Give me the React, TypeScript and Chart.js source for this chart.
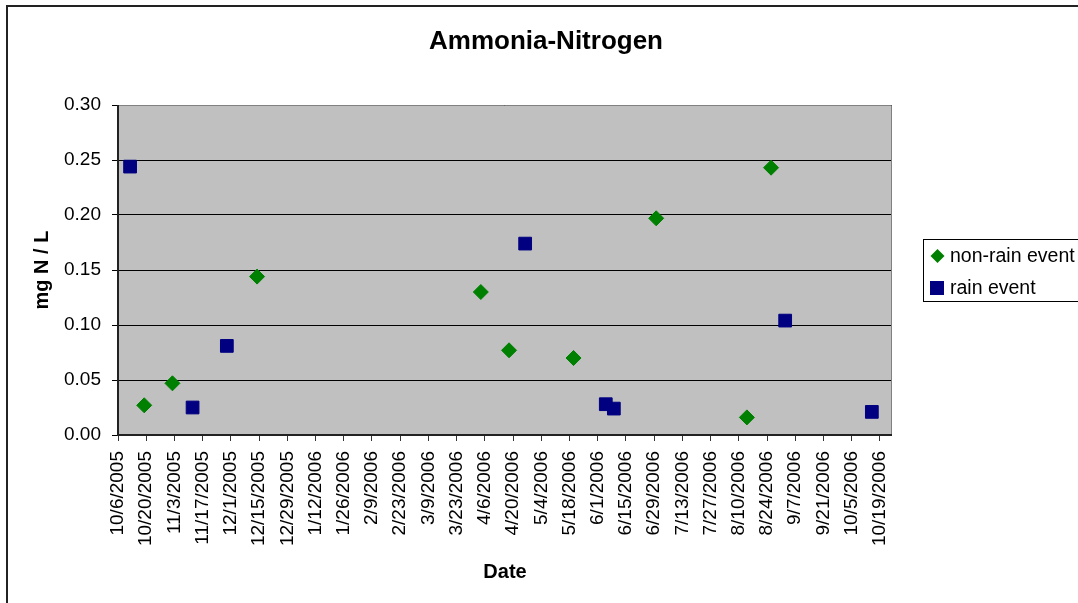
import React, { useEffect, useRef } from 'react';
import { Chart, registerables } from 'chart.js';

Chart.register(...registerables);

const chartTitle = 'Ammonia-Nitrogen';
const xAxisTitle = 'Date';
const yAxisTitle = 'mg N / L';
const nonRainLabel = 'non-rain event';
const rainLabel = 'rain event';

const nonRainDates = ['10/19/2005', '11/2/2005', '12/14/2005', '4/4/2006', '4/18/2006', '5/20/2006', '6/30/2006', '8/14/2006', '8/26/2006'];
const nonRainValues = [0.027, 0.047, 0.144, 0.130, 0.077, 0.070, 0.197, 0.016, 0.243];

const rainDates = ['10/12/2005', '11/12/2005', '11/29/2005', '4/26/2006', '6/5/2006', '6/9/2006', '9/2/2006', '10/15/2006'];
const rainValues = [0.244, 0.025, 0.081, 0.174, 0.028, 0.024, 0.104, 0.021];

const xTickDates = [
  '10/6/2005', '10/20/2005', '11/3/2005', '11/17/2005', '12/1/2005', '12/15/2005', '12/29/2005',
  '1/12/2006', '1/26/2006', '2/9/2006', '2/23/2006', '3/9/2006', '3/23/2006', '4/6/2006',
  '4/20/2006', '5/4/2006', '5/18/2006', '6/1/2006', '6/15/2006', '6/29/2006', '7/13/2006',
  '7/27/2006', '8/10/2006', '8/24/2006', '9/7/2006', '9/21/2006', '10/5/2006', '10/19/2006',
];
const xMinDate = '10/6/2005';
const xMaxDate = '10/25/2006';
const yTicks = [0, 0.05, 0.1, 0.15, 0.2, 0.25, 0.3];

const FONT = 'Arial, "Liberation Sans", sans-serif';

function toDay(s: string): number {
  const [m, d, y] = s.split('/').map(Number);
  return Date.UTC(y, m - 1, d) / 86400000;
}
function fmtDay(v: number): string {
  const dt = new Date(Math.round(v) * 86400000);
  return `${dt.getUTCMonth() + 1}/${dt.getUTCDate()}/${dt.getUTCFullYear()}`;
}

const decorPlugin = {
  id: 'decor',
  beforeDraw(chart: any) {
    const { ctx, chartArea, width, height } = chart;
    ctx.save();
    ctx.fillStyle = '#ffffff';
    ctx.fillRect(0, 0, width, height);
    ctx.strokeStyle = '#222222';
    ctx.lineWidth = 2;
    ctx.strokeRect(7, 6, width + 20, height + 20);
    ctx.fillStyle = '#C0C0C0';
    ctx.fillRect(chartArea.left, chartArea.top, chartArea.right - chartArea.left, chartArea.bottom - chartArea.top);
    ctx.restore();
  },
  beforeDatasetsDraw(chart: any) {
    const { ctx, chartArea } = chart;
    const { left, right, top, bottom } = chartArea;
    ctx.save();
    ctx.strokeStyle = '#808080';
    ctx.lineWidth = 1;
    ctx.beginPath();
    ctx.moveTo(left, top + 0.5);
    ctx.lineTo(right - 0.5, top + 0.5);
    ctx.lineTo(right - 0.5, bottom);
    ctx.stroke();
    ctx.strokeStyle = '#222222';
    ctx.lineWidth = 2;
    ctx.beginPath();
    ctx.moveTo(left, top);
    ctx.lineTo(left, bottom);
    ctx.lineTo(right, bottom);
    ctx.stroke();
    ctx.restore();
  },
  afterDraw(chart: any) {
    const { ctx } = chart;
    ctx.save();
    // title
    ctx.fillStyle = '#000';
    ctx.font = `bold 26px ${FONT}`;
    ctx.textAlign = 'center';
    ctx.textBaseline = 'middle';
    ctx.fillText(chartTitle, 546, 42);
    // legend
    ctx.strokeStyle = '#000';
    ctx.lineWidth = 1;
    ctx.strokeRect(923.5, 239.5, 200, 62);
    ctx.fillStyle = '#008000';
    ctx.beginPath();
    ctx.moveTo(937.5 - 7, 256);
    ctx.lineTo(937.5, 256 - 7);
    ctx.lineTo(937.5 + 7, 256);
    ctx.lineTo(937.5, 256 + 7);
    ctx.closePath();
    ctx.fill();
    ctx.fillStyle = '#000080';
    ctx.fillRect(930, 281, 14, 14);
    ctx.fillStyle = '#000';
    ctx.font = `19.5px ${FONT}`;
    ctx.textAlign = 'left';
    ctx.textBaseline = 'middle';
    ctx.fillText(nonRainLabel, 950, 257);
    ctx.fillText(rainLabel, 950, 289);
    ctx.restore();
  },
};

export default function App() {
  const ref = useRef<HTMLCanvasElement>(null);
  useEffect(() => {
    if (!ref.current) return;
    const chart = new Chart(ref.current, {
      type: 'scatter',
      data: {
        datasets: [
          {
            label: nonRainLabel,
            data: nonRainDates.map((d, i) => ({ x: toDay(d), y: nonRainValues[i] })),
            pointStyle: 'rectRot',
            pointRadius: 7.5,
            pointHoverRadius: 7.5,
            backgroundColor: '#008000',
            borderColor: '#008000',
            borderWidth: 1,
          },
          {
            label: rainLabel,
            data: rainDates.map((d, i) => ({ x: toDay(d), y: rainValues[i] })),
            pointStyle: 'rect',
            pointRadius: 9,
            pointHoverRadius: 9,
            backgroundColor: '#000080',
            borderColor: '#000080',
            borderWidth: 1,
          },
        ],
      },
      plugins: [decorPlugin],
      options: {
        animation: false,
        responsive: false,
        devicePixelRatio: 1,
        layout: { padding: { left: 0, top: 105, right: 186, bottom: 0 } },
        plugins: {
          legend: { display: false },
          title: { display: false },
          tooltip: { enabled: false },
        },
        scales: {
          x: {
            type: 'linear',
            min: toDay(xMinDate),
            max: toDay(xMaxDate),
            afterBuildTicks: (axis: any) => {
              axis.ticks = xTickDates.map((s) => ({ value: toDay(s) }));
            },
            afterFit: (scale: any) => {
              scale.height = 168;
            },
            ticks: {
              autoSkip: false,
              minRotation: 90,
              maxRotation: 90,
              padding: 10,
              color: '#000',
              font: { family: FONT, size: 19 },
              callback: (v: any) => fmtDay(Number(v)),
            },
            grid: {
              drawOnChartArea: false,
              drawTicks: true,
              tickLength: 6,
              tickColor: '#333333',
            },
            border: { display: false },
            title: {
              display: true,
              text: xAxisTitle,
              color: '#000',
              font: { family: FONT, size: 20, weight: 'bold' },
              padding: { top: 0, bottom: 19 },
            },
          },
          y: {
            type: 'linear',
            min: 0,
            max: 0.3,
            afterBuildTicks: (axis: any) => {
              axis.ticks = yTicks.map((v) => ({ value: v }));
            },
            afterFit: (scale: any) => {
              scale.width = 118;
            },
            ticks: {
              padding: 11,
              color: '#000',
              font: { family: FONT, size: 19 },
              callback: (v: any) => Number(v).toFixed(2),
            },
            grid: {
              color: '#000000',
              lineWidth: 1,
              drawTicks: true,
              tickLength: 6,
              tickColor: '#000000',
            },
            border: { display: false },
            title: {
              display: true,
              text: yAxisTitle,
              color: '#000',
              font: { family: FONT, size: 20, weight: 'bold' },
              padding: { top: 30, bottom: 0 },
            },
          },
        },
      },
    });
    return () => chart.destroy();
  }, []);
  return (
    <div style={{ position: 'absolute', left: 0, top: 0, width: 1078, height: 603 }}>
      <canvas ref={ref} width={1078} height={603} style={{ display: 'block' }} />
    </div>
  );
}
